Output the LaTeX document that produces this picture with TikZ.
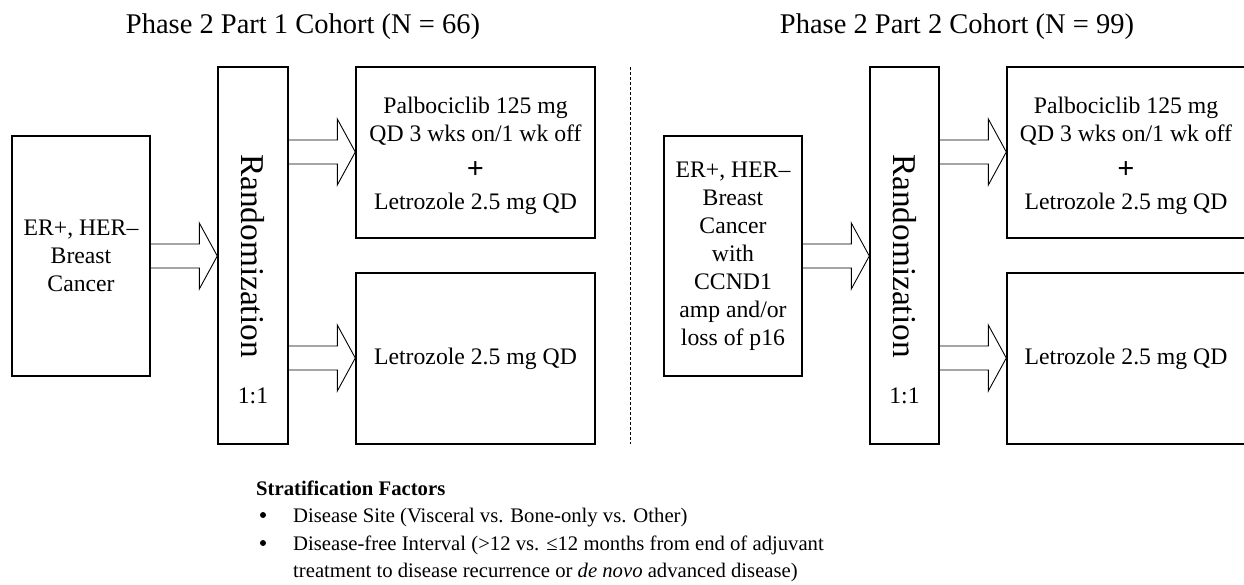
\documentclass[tikz,border=0pt]{standalone}
\usepackage{fontspec}
\setmainfont{Liberation Serif}
\usetikzlibrary{calc}
\tikzset{
  box/.style={draw, line width=1.4pt, inner sep=0pt, align=center, font=\fontsize{23.7}{28}\selectfont},
  arr/.style={draw, line width=0.9pt, line join=miter},
  txt/.style={inner sep=0pt, align=center},
  strat/.style={inner sep=0pt, anchor=base west, font=\fontsize{20.7}{28}\selectfont},
  bul/.style={circle, fill, inner sep=0pt, minimum size=6pt},
}
\newcommand\blockarrow[3]{%
  \draw[arr] ($(#1.east|-0,#3)+(0,-12)$) -- ($(#2.west|-0,#3)+(-18,-12)$)
    -- ($(#2.west|-0,#3)+(-18,-33)$) -- (#2.west|-0,#3)
    -- ($(#2.west|-0,#3)+(-18,33)$) -- ($(#2.west|-0,#3)+(-18,12)$)
    -- ($(#1.east|-0,#3)+(0,12)$);}
\newcommand\combo{Palbociclib 125 mg\\QD 3 wks on/1 wk off\\[9pt]{\fontsize{30}{28}\selectfont\bfseries +}\\[3pt]Letrozole 2.5 mg QD}
\begin{document}
\begin{tikzpicture}[x=1pt,y=-1pt]
\useasboundingbox (0,0) rectangle (1244,584);
% titles
\node[txt, font=\fontsize{28.5}{32}\selectfont, anchor=base] (t1) at (303,33) {Phase 2 Part 1 Cohort (N = 66)};
\node[txt, font=\fontsize{28.5}{32}\selectfont, anchor=base] (t2) at (957,33) {Phase 2 Part 2 Cohort (N = 99)};
% left cohort
\node[box, minimum width=138pt, minimum height=240pt] (p1) at (81,256) {ER+, HER–\\Breast\\Cancer};
\node[box, minimum width=70pt, minimum height=377pt] (r1) at (253,255.5) {};
\node[txt, rotate=-90, font=\fontsize{33.3}{36}\selectfont] (r1t) at (253,256) {Randomization};
\node[txt, font=\fontsize{23.7}{28}\selectfont, anchor=base] (r1r) at (253,403) {1:1};
\node[box, minimum width=239pt, minimum height=171pt] (a1) at (475.5,152.5) {};
\node[txt, font=\fontsize{23.7}{28}\selectfont] (a1t) at (475.5,156) {\combo};
\node[box, minimum width=239pt, minimum height=171pt] (c1) at (475.5,358.5) {Letrozole 2.5 mg QD};
\blockarrow{p1}{r1}{256}
\blockarrow{r1}{a1}{152}
\blockarrow{r1}{c1}{358}
% divider
\coordinate (d1) at (630,67);
\coordinate (d2) at (630,444);
\draw[line width=0.8pt, dash pattern=on 3pt off 2pt] (d1) -- (d2);
% right cohort
\node[box, minimum width=138pt, minimum height=240pt] (p2) at (733,256) {ER+, HER–\\Breast\\Cancer\\with\\CCND1\\amp and/or\\loss of p16};
\node[box, minimum width=69pt, minimum height=377pt] (r2) at (904.5,255.5) {};
\node[txt, rotate=-90, font=\fontsize{33.3}{36}\selectfont] (r2t) at (904.5,256) {Randomization};
\node[txt, font=\fontsize{23.7}{28}\selectfont, anchor=base] (r2r) at (904.5,403) {1:1};
\node[box, minimum width=238pt, minimum height=171pt] (a2) at (1126,152.5) {};
\node[txt, font=\fontsize{23.7}{28}\selectfont] (a2t) at (1126,156) {\combo};
\node[box, minimum width=238pt, minimum height=171pt] (c2) at (1126,358.5) {Letrozole 2.5 mg QD};
\blockarrow{p2}{r2}{256}
\blockarrow{r2}{a2}{152}
\blockarrow{r2}{c2}{358}
% stratification
\node[strat] (s0) at (256,495) {\bfseries Stratification Factors};
\node[bul] (b1) at (263,515) {};
\node[strat] (s1) at (293,522) {Disease Site (Visceral vs. Bone-only vs. Other)};
\node[bul] (b2) at (263,543) {};
\node[strat] (s2) at (293,550) {Disease-free Interval (>12 vs. ≤12 months from end of adjuvant};
\node[strat] (s3) at (293,577) {treatment to disease recurrence or \textit{de novo} advanced disease)};
\end{tikzpicture}
\end{document}
